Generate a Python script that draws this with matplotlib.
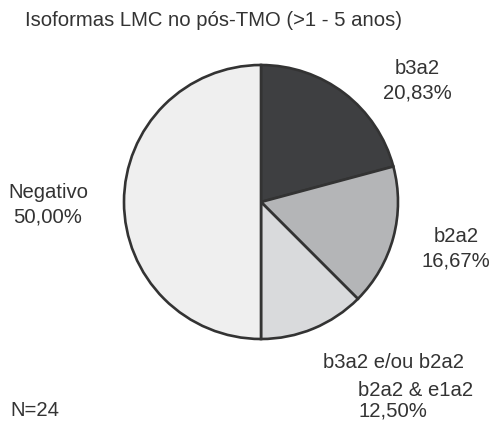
import matplotlib.pyplot as plt

# Isoform distribution after BMT (>1 - 5 years), N=24
labels = ['b3a2', 'b2a2', 'b3a2 e/ou b2a2\nb2a2 & e1a2', 'Negativo']
values = [20.83, 16.67, 12.50, 50.00]
colors = ['#3e3f41', '#b4b5b7', '#d9dadc', '#efefef']
n_total = 24

plt.rcParams['font.family'] = ['Liberation Sans', 'DejaVu Sans']
txt = '#333333'
fs = 14.6

W, H = 493, 424
fig = plt.figure(figsize=(W / 100, H / 100), dpi=100)

# pie centred at (261, 202) px from top-left, radius 137 px
cx, cy, r = 261, 202, 137
ax = fig.add_axes([(cx - r) / W, (H - cy - r) / H, 2 * r / W, 2 * r / H])
ax.pie(values, colors=colors, startangle=90, counterclock=False, radius=1,
       wedgeprops=dict(edgecolor='#333333', linewidth=1.9))
ax.set_xlim(-1, 1)
ax.set_ylim(-1, 1)
ax.set_aspect('equal')
ax.axis('off')


def pct(v):
    return f'{v:.2f}'.replace('.', ',') + '%'


def px(x, y):
    return x / W, 1 - y / H


fig.text(*px(25, 21), 'Isoformas LMC no pós-TMO (>1 - 5 anos)', fontsize=fs,
         color=txt, ha='left', va='center')

fig.text(*px(417, 81), f'{labels[0]}\n{pct(values[0])}', fontsize=fs, color=txt,
         ha='center', va='center', linespacing=1.35)
fig.text(*px(456, 249), f'{labels[1]}\n{pct(values[1])}', fontsize=fs, color=txt,
         ha='center', va='center', linespacing=1.35)
fig.text(*px(48, 205), f'{labels[3]}\n{pct(values[3])}', fontsize=fs, color=txt,
         ha='center', va='center', linespacing=1.35)

# three-line label under the pie, second and third lines indented
first, second = labels[2].split('\n')
fig.text(*px(323, 362), first, fontsize=fs, color=txt, ha='left', va='center')
fig.text(*px(358, 390), second, fontsize=fs, color=txt, ha='left', va='center')
fig.text(*px(358, 411), pct(values[2]), fontsize=fs, color=txt, ha='left', va='center')

fig.text(*px(10, 410), f'N={n_total}', fontsize=fs, color=txt, ha='left', va='center')

fig.savefig('out.png', dpi=100)
